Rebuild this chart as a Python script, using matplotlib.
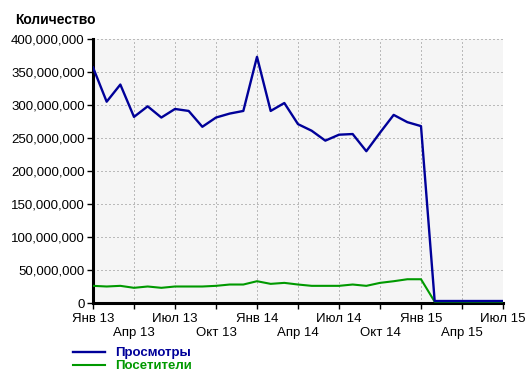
import numpy as np
import matplotlib
matplotlib.use("Agg")
import matplotlib.pyplot as plt
from matplotlib.ticker import FuncFormatter, MultipleLocator

plt.rcParams['font.family'] = ['Liberation Sans', 'DejaVu Sans']

# monthly data, Jan 2013 .. Jul 2015 (values in millions)
months = np.arange(31)
views = [357, 305, 331, 282, 298, 281, 294, 291, 267, 281, 287, 291,
         373, 291, 303, 271, 261, 246, 255, 256, 230, 258, 285, 274,
         268, 3, 3, 3, 3, 3, 3]
visitors = [26, 25, 26, 23, 25, 23, 25, 25, 25, 26, 28, 28,
            33, 29, 30.5, 28, 26, 26, 26, 28, 26, 30.5, 33, 36,
            36, 2, 2, 2, 2, 2, 2]
tick_labels = ["Янв 13", "Апр 13", "Июл 13", "Окт 13", "Янв 14", "Апр 14",
               "Июл 14", "Окт 14", "Янв 15", "Апр 15", "Июл 15"]

navy = "#000099"
green = "#009900"

fig = plt.figure(figsize=(5.32, 3.76), dpi=100)
ax = fig.add_axes([93 / 532, 1 - 303 / 376, 410 / 532, 264 / 376])
ax.set_facecolor("#f5f5f5")

ax.plot(months, np.array(visitors) * 1e6, color=green, lw=1.5, label="Посетители", zorder=3)
ax.plot(months, np.array(views) * 1e6, color=navy, lw=1.7, label="Просмотры", zorder=4)

ax.set_xlim(0, 30)
ax.set_ylim(0, 400e6)
ax.set_xticks(months[::3])
ax.set_xticklabels([t if i % 2 == 0 else "\n" + t for i, t in enumerate(tick_labels)])
ax.yaxis.set_major_locator(MultipleLocator(50e6))
ax.yaxis.set_major_formatter(FuncFormatter(lambda v, p: f"{int(v):,}"))
ax.tick_params(labelsize=9.5, length=4, width=1, colors="black", pad=2)
ax.tick_params(axis="x", pad=3)

ax.grid(True, color="#808080", linestyle=(0, (1, 3)), lw=0.72)
for s in ["top", "right"]:
    ax.spines[s].set_visible(False)
for s in ["left", "bottom"]:
    ax.spines[s].set_linewidth(2.2)

fig.text(15 / 532, 1 - 20 / 376, "Количество", fontsize=10, fontweight="bold", va="center")

h, l = ax.get_legend_handles_labels()
leg = fig.legend(h[::-1], l[::-1], loc="upper left", bbox_to_anchor=(73 / 532, 1 - 347 / 376),
                 frameon=False, fontsize=9.5, handlelength=2.4, handletextpad=0.8,
                 labelspacing=0.05, borderpad=0, borderaxespad=0)
for t, c in zip(leg.get_texts(), [navy, green]):
    t.set_color(c)
    t.set_fontweight("bold")

fig.savefig("out.png", dpi=100)
